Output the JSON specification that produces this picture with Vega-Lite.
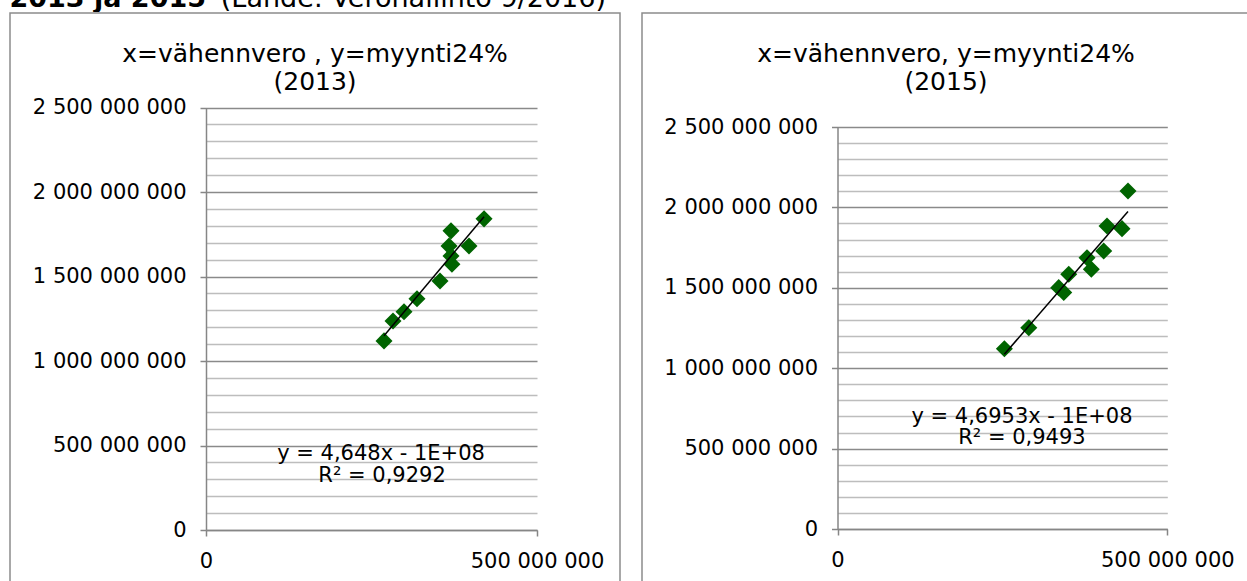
{
  "$schema": "https://vega.github.io/schema/vega-lite/v6.json",
  "background": "white",
  "padding": {"left": 9, "top": 0, "right": 0, "bottom": 0},
  "spacing": 0,
  "config": {
    "font": "DejaVu Sans",
    "view": {"stroke": "#8c8c8c", "strokeWidth": 1.5},
    "axis": {
      "labelFont": "DejaVu Sans",
      "labelColor": "#000000",
      "labelFontSize": 21,
      "domainColor": "#868686",
      "domainWidth": 1.5,
      "tickColor": "#868686",
      "tickWidth": 1.5,
      "tickSize": 6,
      "title": null,
      "labelOverlap": false,
      "labelFlush": false
    },
    "text": {"font": "DejaVu Sans", "color": "#000000"}
  },
  "datasets": {
    "y2013": [
      {"vahennvero": 268900000, "myynti": 1119000000},
      {"vahennvero": 282500000, "myynti": 1237000000},
      {"vahennvero": 299100000, "myynti": 1291000000},
      {"vahennvero": 318700000, "myynti": 1368000000},
      {"vahennvero": 353500000, "myynti": 1474000000},
      {"vahennvero": 371500000, "myynti": 1573000000},
      {"vahennvero": 370100000, "myynti": 1622000000},
      {"vahennvero": 367100000, "myynti": 1681000000},
      {"vahennvero": 370100000, "myynti": 1770000000},
      {"vahennvero": 397300000, "myynti": 1681000000},
      {"vahennvero": 420000000, "myynti": 1841000000}
    ],
    "y2015": [
      {"vahennvero": 253000000, "myynti": 1121000000},
      {"vahennvero": 290000000, "myynti": 1252000000},
      {"vahennvero": 335400000, "myynti": 1501000000},
      {"vahennvero": 343000000, "myynti": 1471000000},
      {"vahennvero": 350600000, "myynti": 1584000000},
      {"vahennvero": 378300000, "myynti": 1687000000},
      {"vahennvero": 384800000, "myynti": 1615000000},
      {"vahennvero": 403600000, "myynti": 1729000000},
      {"vahennvero": 408600000, "myynti": 1884000000},
      {"vahennvero": 431300000, "myynti": 1868000000},
      {"vahennvero": 440400000, "myynti": 2102000000}
    ],
    "one": [{}]
  },
  "vconcat": [
    {
      "width": 610,
      "height": 12,
      "view": {"stroke": null},
      "data": {"name": "one"},
      "layer": [
        {
          "mark": {"type": "text", "clip": true, "align": "right", "baseline": "alphabetic", "fontSize": 27, "fontWeight": "bold"},
          "encoding": {"x": {"value": 196}, "y": {"value": 7}, "text": {"value": "2013 ja 2015"}}
        },
        {
          "mark": {"type": "text", "clip": true, "align": "right", "baseline": "alphabetic", "fontSize": 27, "fontWeight": "normal"},
          "encoding": {"x": {"value": 596}, "y": {"value": 7}, "text": {"value": "(Lähde: Verohallinto 9/2016)"}}
        }
      ]
    },
    {
      "spacing": 20,
      "hconcat": [
        {
          "width": 610,
          "height": 571,
          "layer": [
            {
              "data": {"name": "y2013"},
              "mark": {"type": "point", "shape": "diamond", "filled": true, "color": "#006400", "size": 290, "opacity": 1},
              "encoding": {
                "x": {
                  "field": "vahennvero", "type": "quantitative",
                  "scale": {"domain": [0, 500000000], "range": [196, 527], "nice": false},
                  "axis": {"values": [0, 500000000], "tickCount": 10, "offset": -54, "grid": false, "labelPadding": 14, "labelOverlap": false, "labelExpr": "replace(format(datum.value, ','), /,/g, ' ')"}
                },
                "y": {
                  "field": "myynti", "type": "quantitative",
                  "scale": {"domain": [0, 2500000000], "range": [517, 94.5], "nice": false},
                  "axis": {
                    "values": [0, 100000000, 200000000, 300000000, 400000000, 500000000, 600000000, 700000000, 800000000, 900000000, 1000000000, 1100000000, 1200000000, 1300000000, 1400000000, 1500000000, 1600000000, 1700000000, 1800000000, 1900000000, 2000000000, 2100000000, 2200000000, 2300000000, 2400000000, 2500000000],
                    "tickCount": 60,
                    "offset": -196,
                    "grid": true,
                    "gridWidth": 1.5,
                    "labelOverlap": false,
                    "gridColor": {"condition": {"test": "datum.value % 500000000 === 0", "value": "#8a8a8a"}, "value": "#bdbdbd"},
                    "tickOpacity": {"condition": {"test": "datum.value % 500000000 === 0", "value": 1}, "value": 0},
                    "labelPadding": 14,
                    "labelExpr": "datum.value % 500000000 === 0 ? replace(format(datum.value, ','), /,/g, ' ') : ''"
                  }
                }
              }
            },
            {
              "data": {"name": "y2013"},
              "transform": [{"regression": "myynti", "on": "vahennvero"}],
              "mark": {"type": "line", "color": "#000000", "strokeWidth": 1.5},
              "encoding": {
                "x": {"field": "vahennvero", "type": "quantitative"},
                "y": {"field": "myynti", "type": "quantitative"}
              }
            },
            {
              "data": {"name": "one"},
              "mark": {"type": "text", "fontSize": 25, "baseline": "middle"},
              "encoding": {"x": {"datum": 164700000}, "y": {"datum": 2818000000}, "text": {"value": "x=vähennvero , y=myynti24%"}}
            },
            {
              "data": {"name": "one"},
              "mark": {"type": "text", "fontSize": 25, "baseline": "middle"},
              "encoding": {"x": {"datum": 164700000}, "y": {"datum": 2652000000}, "text": {"value": "(2013)"}}
            },
            {
              "data": {"name": "one"},
              "mark": {"type": "text", "fontSize": 21, "baseline": "middle"},
              "encoding": {"x": {"datum": 264400000}, "y": {"datum": 449900000}, "text": {"value": "y = 4,648x - 1E+08"}}
            },
            {
              "data": {"name": "one"},
              "mark": {"type": "text", "fontSize": 21, "baseline": "middle"},
              "encoding": {"x": {"datum": 266000000}, "y": {"datum": 319700000}, "text": {"value": "R² = 0,9292"}}
            }
          ]
        },
        {
          "width": 608,
          "height": 571,
          "layer": [
            {
              "data": {"name": "y2015"},
              "mark": {"type": "point", "shape": "diamond", "filled": true, "color": "#006400", "size": 290, "opacity": 1},
              "encoding": {
                "x": {
                  "field": "vahennvero", "type": "quantitative",
                  "scale": {"domain": [0, 500000000], "range": [195.5, 525.3], "nice": false},
                  "axis": {"values": [0, 500000000], "tickCount": 10, "offset": -55, "grid": false, "labelPadding": 14, "labelOverlap": false, "labelExpr": "replace(format(datum.value, ','), /,/g, ' ')"}
                },
                "y": {
                  "field": "myynti", "type": "quantitative",
                  "scale": {"domain": [0, 2500000000], "range": [516, 114], "nice": false},
                  "axis": {
                    "values": [0, 100000000, 200000000, 300000000, 400000000, 500000000, 600000000, 700000000, 800000000, 900000000, 1000000000, 1100000000, 1200000000, 1300000000, 1400000000, 1500000000, 1600000000, 1700000000, 1800000000, 1900000000, 2000000000, 2100000000, 2200000000, 2300000000, 2400000000, 2500000000],
                    "tickCount": 60,
                    "offset": -195.5,
                    "grid": true,
                    "gridWidth": 1.5,
                    "labelOverlap": false,
                    "gridColor": {"condition": {"test": "datum.value % 500000000 === 0", "value": "#8a8a8a"}, "value": "#bdbdbd"},
                    "tickOpacity": {"condition": {"test": "datum.value % 500000000 === 0", "value": 1}, "value": 0},
                    "labelPadding": 14,
                    "labelExpr": "datum.value % 500000000 === 0 ? replace(format(datum.value, ','), /,/g, ' ') : ''"
                  }
                }
              }
            },
            {
              "data": {"name": "y2015"},
              "transform": [{"regression": "myynti", "on": "vahennvero"}],
              "mark": {"type": "line", "color": "#000000", "strokeWidth": 1.5},
              "encoding": {
                "x": {"field": "vahennvero", "type": "quantitative"},
                "y": {"field": "myynti", "type": "quantitative"}
              }
            },
            {
              "data": {"name": "one"},
              "mark": {"type": "text", "fontSize": 25, "baseline": "middle"},
              "encoding": {"x": {"datum": 164500000}, "y": {"datum": 2954000000}, "text": {"value": "x=vähennvero, y=myynti24%"}}
            },
            {
              "data": {"name": "one"},
              "mark": {"type": "text", "fontSize": 25, "baseline": "middle"},
              "encoding": {"x": {"datum": 164500000}, "y": {"datum": 2780000000}, "text": {"value": "(2015)"}}
            },
            {
              "data": {"name": "one"},
              "mark": {"type": "text", "fontSize": 21, "baseline": "middle"},
              "encoding": {"x": {"datum": 279700000}, "y": {"datum": 696500000}, "text": {"value": "y = 4,6953x - 1E+08"}}
            },
            {
              "data": {"name": "one"},
              "mark": {"type": "text", "fontSize": 21, "baseline": "middle"},
              "encoding": {"x": {"datum": 279700000}, "y": {"datum": 565900000}, "text": {"value": "R² = 0,9493"}}
            }
          ]
        }
      ]
    }
  ]
}
